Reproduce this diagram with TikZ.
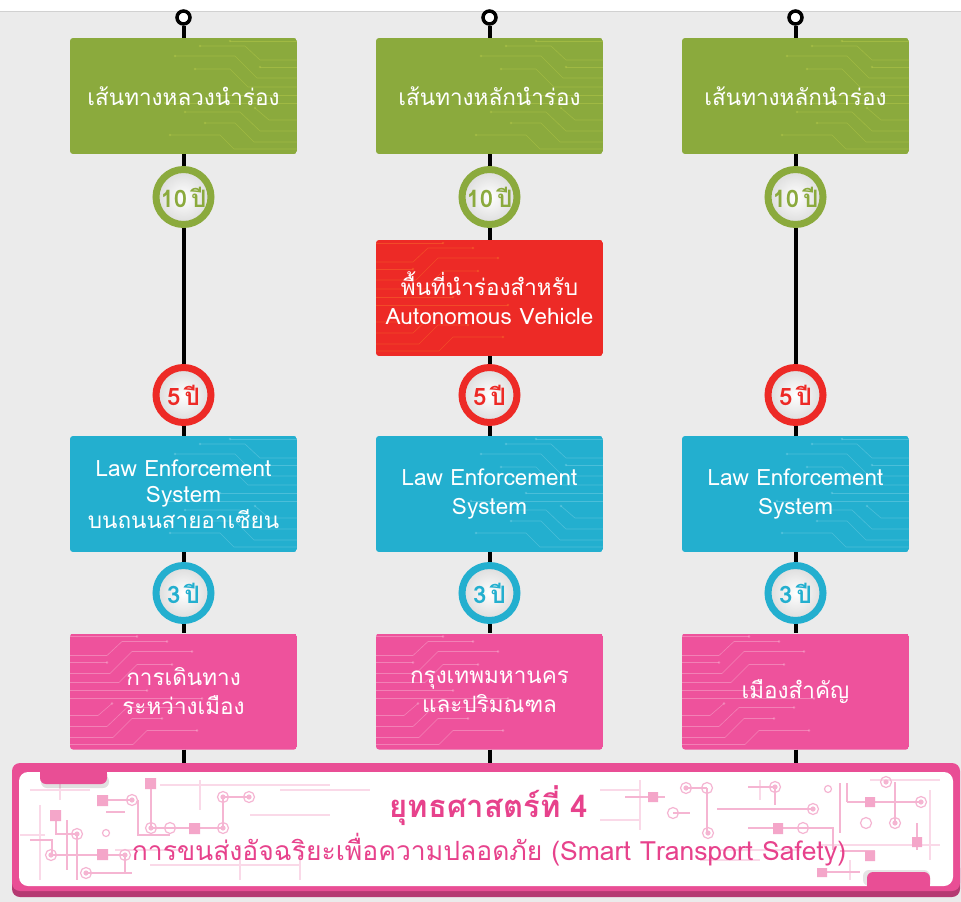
\documentclass[tikz,border=0pt]{standalone}
\usepackage{fontspec}
\setmainfont{Loma}[Script=Thai]
\definecolor{bggray}{HTML}{EBEBEB}
\definecolor{cgreen}{HTML}{8BAA3D}
\definecolor{cred}{HTML}{ED2A26}
\definecolor{cblue}{HTML}{23AFCF}
\definecolor{cpink}{HTML}{EE529C}
\definecolor{bpink}{HTML}{E94E95}
\definecolor{bdark}{HTML}{B53A72}
\definecolor{tpink}{HTML}{E7428C}
\definecolor{trgreen}{HTML}{B2C648}
\definecolor{trred}{HTML}{F7672A}
\definecolor{trblue}{HTML}{6CCBE2}
\definecolor{trpink}{HTML}{F7A8CC}
\definecolor{cl}{HTML}{F5B5D2}
\definecolor{cll}{HTML}{FAD9E8}
\definecolor{csq}{HTML}{F4A6C9}
\newcommand\mytraces{%
  \draw (130,8)--(175,8)--(190,22)--(227,22);
  \draw (160,3)--(227,3);
  \draw (105,18)--(165,18)--(187,40)--(227,40);
  \draw (125,31)--(160,31)--(178,49)--(227,49);
  \draw (190,29)--(227,29);
  \draw (150,57)--(227,57);
  \draw (95,65)--(227,65);
  \draw (185,70)--(199,82)--(227,82);
  \draw (115,74)--(170,74)--(190,93)--(227,93);
  \draw (135,85)--(165,85)--(184,104)--(227,104);
  \draw (100,97)--(150,97)--(164,111)--(227,111);
  \foreach \p in {(130,8),(160,3),(105,18),(125,31),(190,29),(150,57),(95,65),(185,70),(115,74),(135,85),(100,97)}
    \fill \p circle (1.4);
}
% #1 x, #2 y, #3 fill colour, #4 trace colour, #5 side (1 right, -1 left)
\newcommand\tracebox[5]{%
  \begin{scope}
    \clip[rounded corners=3pt] (#1-113.5,#2-58) rectangle (#1+113.5,#2+58);
    \fill[#3] (#1-113.5,#2-58) rectangle (#1+113.5,#2+58);
    \begin{scope}[shift={(#1,#2)}, xscale=#5, draw=#4, fill=#4, line width=0.6pt, opacity=0.55]
      \begin{scope}[shift={(-113.5,-58)}]\mytraces\end{scope}
    \end{scope}
  \end{scope}}
\tikzset{
  conn/.style={line width=4pt, black},
  boxbase/.style={rectangle, rounded corners=3pt, minimum width=227pt, minimum height=116pt,
    inner sep=2pt, text=white, align=center, font=\fontsize{22.5}{29}\selectfont},
  badge/.style={circle, minimum size=55pt, inner sep=0pt, line width=7pt, draw=#1, text=#1,
    inner color=white, outer color=black!14, font=\bfseries\fontsize{24}{26}\selectfont},
  topdot/.style={circle, minimum size=13pt, inner sep=0pt, line width=3.5pt, draw=black, fill=white},
  sq/.style={fill=csq},
  ring/.style={draw=cl, line width=1.2pt},
  ln/.style={draw=cl, line width=1.3pt},
  lnl/.style={draw=cll, line width=1.3pt}
}
\begin{document}
\begin{tikzpicture}[x=1pt,y=-1pt]
\useasboundingbox (0,0) rectangle (961,902);
\fill[white] (0,0) rectangle (961,11);
\fill[bggray] (0,11) rectangle (961,902);
\draw[black!18, line width=1pt] (0,11)--(961,11);

% ---------- banner ----------
\fill[bdark, rounded corners=8pt] (12,860) rectangle (960,897);
\node[rectangle, rounded corners=8pt, fill=bpink, minimum width=948pt, minimum height=128pt, inner sep=0pt] (banner) at (486,827) {};
\fill[white, rounded corners=9pt] (19,772) rectangle (953,886);
% circuit decoration (left)
\draw[lnl] (30,790)--(90,790) (40,805)--(40,880) (60,780)--(60,800) (115,850)--(180,850) (150,865)--(300,865) (200,780)--(200,810) (250,815)--(330,815) (280,790)--(370,790) (20,835)--(45,835) (300,840)--(300,880) (240,845)--(240,880) (160,785)--(330,785);
\draw[ln] (108,800)--(132,800) (151,783)--(151,828)--(223,828) (223,797)--(223,828) (223,797)--(249,797)
  (52,855)--(125,855)--(125,873) (86,873)--(132,873) (56,815)--(56,834)--(77,834) (67,820)--(67,870)
  (77,834)--(77,880) (138,800)--(138,835)--(170,835) (30,840)--(52,840)--(52,855) (106,812)--(125,812);
\fill[sq] (145,778) rectangle (156,789) (97,795) rectangle (108,806) (50,810) rectangle (61,821)
  (97,849) rectangle (108,860) (189,823) rectangle (200,834);
\foreach \p in {(132,800),(77,834),(51,855),(86,873),(223,797),(249,797),(125,855),(151,828),(223,828)}{
  \draw[ring] \p circle (5.5); \fill[cl] \p circle (2.6);}
\draw[ring] (170,828) circle (5.5);
\draw[ring] (106,833) circle (3.5);
% top-left tab
\fill[black, opacity=0.12, rounded corners=6pt] (41,775) rectangle (109,788);
\fill[bpink, rounded corners=6pt] (40,768) rectangle (107,784);
\fill[bpink] (40,768) rectangle (107,775);
% circuit decoration (right)
\draw[lnl] (600,790)--(640,790) (640,780)--(640,830) (720,850)--(800,850) (760,780)--(760,800) (870,780)--(940,780) (930,790)--(930,860) (820,845)--(940,845) (700,860)--(760,860) (850,860)--(850,880) (600,820)--(640,820);
\draw[ln] (625,797)--(665,797) (686,788)--(707,788) (707,788)--(707,833) (717,809)--(813,809)
  (748,787)--(775,787) (775,787)--(775,805) (748,828)--(822,828)--(833,828)--(833,850)
  (840,783)--(840,833) (847,802)--(920,802) (847,783)--(847,802) (895,782)--(895,823)
  (917,823)--(917,850) (840,851)--(875,851) (827,872)--(860,872) (673,813)--(690,813);
\fill[sq] (648,792) rectangle (658,802) (773,823) rectangle (783,834) (865,797) rectangle (875,807)
  (912,837) rectangle (922,847) (865,851) rectangle (875,861) (817,868) rectangle (827,877);
\foreach \p in {(686,788),(708,833),(775,787),(813,809),(886,782),(921,802),(895,823)}{
  \draw[ring] \p circle (5.5); \fill[cl] \p circle (2.6);}
\foreach \p in {(707,788),(673,813),(803,828),(866,823)}{\draw[ring] \p circle (5.5);}
\draw[ring] (828,789) circle (3.5);
% bottom-right tab
\fill[black, opacity=0.10, rounded corners=6pt] (863,870) rectangle (930,886);
\fill[bpink, rounded corners=6pt] (867,872) rectangle (930,890);
\fill[bpink] (867,880) rectangle (930,890);
% banner texts
\node[text=tpink, font=\bfseries\fontsize{31}{34}\selectfont, inner sep=0pt] (title) at (489,806) {ยุทธศาสตร์ที่ 4};
\node[text=tpink, font=\fontsize{26.5}{30}\selectfont, inner sep=0pt] (subtitle) at (489,850) {การขนส่งอัจฉริยะเพื่อความปลอดภัย (Smart Transport Safety)};

% ---------- box backgrounds with circuit traces ----------
\foreach \x in {183.5,489.5,795.5}{
  \tracebox{\x}{96}{cgreen}{trgreen}{1}
  \tracebox{\x}{494}{cblue}{trblue}{1}
  \tracebox{\x}{691.5}{cpink}{trpink}{-1}}
\tracebox{489.5}{298}{cred}{trred}{-1}

% ---------- column 1 ----------
\node[topdot] (t1) at (183.5,17.5) {};
\node[boxbase] (g1) at (183.5,96) {เส้นทางหลวงนำร่อง};
\node[badge=cgreen] (a1) at (183.5,197) {10\,ปี};
\node[badge=cred] (b1) at (183.5,395) {5\,ปี};
\node[boxbase] (c1) at (183.5,494) {Law Enforcement\\[-3pt] System\\[-3pt] บนถนนสายอาเซียน};
\node[badge=cblue] (d1) at (183.5,593) {3\,ปี};
\node[boxbase] (p1) at (183.5,691.5) {การเดินทาง\\ระหว่างเมือง};
% ---------- column 2 ----------
\node[topdot] (t2) at (489.5,17.5) {};
\node[boxbase] (g2) at (489.5,96) {เส้นทางหลักนำร่อง};
\node[badge=cgreen] (a2) at (489.5,197) {10\,ปี};
\node[boxbase] (r2) at (489.5,298) {พื้นที่นำร่องสำหรับ\\Autonomous Vehicle};
\node[badge=cred] (b2) at (489.5,395) {5\,ปี};
\node[boxbase] (c2) at (489.5,494) {Law Enforcement\\System};
\node[badge=cblue] (d2) at (489.5,593) {3\,ปี};
\node[boxbase] (p2) at (489.5,691.5) {กรุงเทพมหานคร\\และปริมณฑล};
% ---------- column 3 ----------
\node[topdot] (t3) at (795.5,17.5) {};
\node[boxbase] (g3) at (795.5,96) {เส้นทางหลักนำร่อง};
\node[badge=cgreen] (a3) at (795.5,197) {10\,ปี};
\node[badge=cred] (b3) at (795.5,395) {5\,ปี};
\node[boxbase] (c3) at (795.5,494) {Law Enforcement\\System};
\node[badge=cblue] (d3) at (795.5,593) {3\,ปี};
\node[boxbase] (p3) at (795.5,691.5) {เมืองสำคัญ};

% ---------- connectors ----------
\draw[conn] (t1) -- (g1) (g1) -- (a1) (a1) -- (b1) (b1) -- (c1) (c1) -- (d1) (d1) -- (p1) (p1) -- (p1.south |- banner.north);
\draw[conn] (t2) -- (g2) (g2) -- (a2) (a2) -- (r2) (r2) -- (b2) (b2) -- (c2) (c2) -- (d2) (d2) -- (p2) (p2) -- (p2.south |- banner.north);
\draw[conn] (t3) -- (g3) (g3) -- (a3) (a3) -- (b3) (b3) -- (c3) (c3) -- (d3) (d3) -- (p3) (p3) -- (p3.south |- banner.north);
\end{tikzpicture}
\end{document}
